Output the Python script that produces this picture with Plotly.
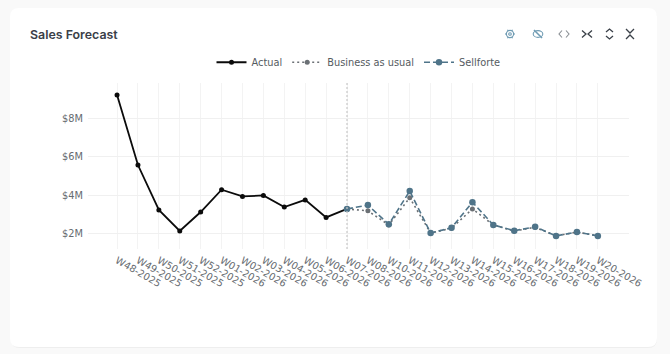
import math
import plotly.graph_objects as go

weeks = ["W48-2025","W49-2025","W50-2025","W51-2025","W52-2025","W01-2026","W02-2026","W03-2026",
         "W04-2026","W05-2026","W06-2026","W07-2026","W08-2026","W10-2026","W11-2026","W12-2026",
         "W13-2026","W14-2026","W15-2026","W16-2026","W17-2026","W18-2026","W19-2026","W20-2026"]
actual_weeks = weeks[:12]
forecast_weeks = weeks[11:]
actual = [9.22,5.58,3.25,2.16,3.14,4.30,3.95,4.00,3.40,3.77,2.86,3.30]
business_as_usual = [3.30,3.20,2.47,3.88,2.05,2.30,3.30,2.47,2.15,2.35,1.90,2.10,1.90]
sellforte = [3.30,3.50,2.50,4.23,2.05,2.32,3.65,2.47,2.17,2.37,1.90,2.10,1.90]
y_ticks = [2,4,6,8]
y_labels = ["$2M","$4M","$6M","$8M"]

W, H = 670, 354
L, R, T, B = 88, 629, 83, 249
def px(x): return (x - L) / (R - L)
def py(y): return (B - y) / (B - T)
def path(*pts, close=False):
    s = "M " + " L ".join(f"{px(a):.5f},{py(b):.5f}" for a, b in pts)
    return s + (" Z" if close else "")
def circle(cx, cy, r, ry=None):
    ry = r if ry is None else ry
    return dict(type="circle", xref="paper", yref="paper", x0=px(cx-r), x1=px(cx+r), y0=py(cy+ry), y1=py(cy-ry))
def rrect(x0, y0, x1, y1, r):
    return (f"M {px(x0+r):.5f},{py(y0):.5f} L {px(x1-r):.5f},{py(y0):.5f} "
            f"Q {px(x1):.5f},{py(y0):.5f} {px(x1):.5f},{py(y0+r):.5f} L {px(x1):.5f},{py(y1-r):.5f} "
            f"Q {px(x1):.5f},{py(y1):.5f} {px(x1-r):.5f},{py(y1):.5f} L {px(x0+r):.5f},{py(y1):.5f} "
            f"Q {px(x0):.5f},{py(y1):.5f} {px(x0):.5f},{py(y1-r):.5f} L {px(x0):.5f},{py(y0+r):.5f} "
            f"Q {px(x0):.5f},{py(y0):.5f} {px(x0+r):.5f},{py(y0):.5f} Z")

fig = go.Figure()
fig.add_trace(go.Scatter(x=actual_weeks, y=actual, name="Actual", mode="lines+markers",
    line=dict(color="#0b0b0b", width=1.8), marker=dict(size=5, color="#0b0b0b")))
fig.add_trace(go.Scatter(x=forecast_weeks, y=business_as_usual, name="Business as usual", mode="lines+markers",
    line=dict(color="#6b7075", width=1.6, dash="2px,3px"), marker=dict(size=5, color="#6b7075")))
fig.add_trace(go.Scatter(x=forecast_weeks, y=sellforte, name="Sellforte", mode="lines+markers",
    line=dict(color="#4f7489", width=1.6, dash="6px,3px"), marker=dict(size=6.5, color="#4f7489")))

shapes = [
    dict(type="path", xref="paper", yref="paper", path=rrect(11, 9, 657, 348, 9),
         fillcolor="#eeeeee", line=dict(width=0), layer="below"),
    dict(type="path", xref="paper", yref="paper", path=rrect(10, 8, 657, 347, 9),
         fillcolor="#ffffff", line=dict(width=0), layer="below"),
    dict(type="line", xref="x", yref="paper", x0="W07-2026", x1="W07-2026", y0=0, y1=1,
         line=dict(color="#c8c8c8", width=1.2, dash="2px,2px")),
]
blue = dict(color="#6f9bb3", width=1.1)
grey = dict(color="#8a8f94", width=1.1)
dark = dict(color="#3a4048", width=1.3)
def icon(pts, line):
    shapes.append(dict(type="path", xref="paper", yref="paper", path=path(*pts), line=line))
# gear
shapes.append({**circle(510, 34, 3.6), "line": blue})
shapes.append({**circle(510, 34, 1.3), "line": blue})
for k in range(6):
    a = k * math.pi / 3
    icon([(510 + 3.6*math.cos(a), 34 + 3.6*math.sin(a)), (510 + 5*math.cos(a), 34 + 5*math.sin(a))], blue)
# crossed-out eye
shapes.append({**circle(538, 34, 4.8, 3.4), "line": blue})
icon([(534, 30), (542, 38)], dict(color="#6f9bb3", width=1.6))
icon([(562, 30.5), (559, 34), (562, 37.5)], grey)
icon([(566, 30.5), (569, 34), (566, 37.5)], grey)
icon([(582, 30.5), (586, 34), (582, 37.5)], dark)
icon([(592, 30.5), (588, 34), (592, 37.5)], dark)
icon([(606, 32), (609.5, 29), (613, 32)], dark)
icon([(606, 36), (609.5, 39), (613, 36)], dark)
icon([(626, 29), (630, 33), (634, 29)], dark)
icon([(626, 39), (630, 35), (634, 39)], dark)

fig.update_layout(
    width=W, height=H, autosize=False,
    margin=dict(l=L, r=W-R, t=T, b=H-B),
    paper_bgcolor="#f9f9f9", plot_bgcolor="rgba(0,0,0,0)",
    font=dict(family="DejaVu Sans, Verdana, sans-serif", size=10, color="#555b61"),
    shapes=shapes,
    hovermode=False,
    legend=dict(orientation="h", x=0.5, xanchor="center", y=1.125, yanchor="middle",
                font=dict(size=9.8, color="#555b61"), bgcolor="rgba(0,0,0,0)", itemwidth=30),
    xaxis=dict(type="category", categoryorder="array", categoryarray=weeks, range=[-1.39, 24.49],
               tickangle=30, showgrid=True, gridcolor="#f3f3f3", gridwidth=1, zeroline=False,
               showline=False, ticks="", ticklabelstandoff=3, tickfont=dict(size=9.8, color="#666b70")),
    yaxis=dict(range=[1.22, 9.84], tickvals=y_ticks, ticktext=y_labels, showgrid=True,
               gridcolor="#f0f0f0", gridwidth=1, zeroline=False, showline=False, ticks="",
               ticklabelstandoff=4, tickfont=dict(size=9.8, color="#666b70")),
    annotations=[dict(text="Sales Forecast", xref="paper", yref="paper", x=px(28), y=py(34.5),
                      xanchor="left", yanchor="middle", showarrow=False,
                      font=dict(family="Inter, sans-serif", size=12.4, color="#3a4048", weight=600))],
)
fig.write_html("out.html", config=dict(displayModeBar=False),
               post_script="document.body.style.margin='0';document.body.style.overflow='hidden';")
